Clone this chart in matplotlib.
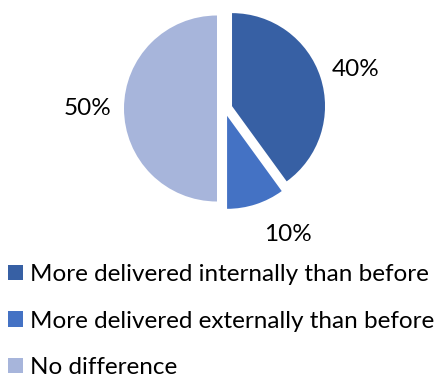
import matplotlib.pyplot as plt
from matplotlib.patches import Patch

labels = [
    "More delivered internally than before",
    "More delivered externally than before",
    "No difference",
]
shares = [40, 10, 50]
colors = ["#3760A4", "#4472C4", "#A7B5DB"]

plt.rcParams["font.family"] = ["Lato", "DejaVu Sans"]

W, H = 444, 378
R = 93
CX, CY = 224.7, H - 108.5
fig = plt.figure(figsize=(W / 100, H / 100), dpi=100)
ax = fig.add_axes([0, 0, 1, 1])

wedges, _, autotexts = ax.pie(
    shares,
    colors=colors,
    startangle=90,
    counterclock=False,
    explode=[7.7] * 3,
    radius=R,
    center=(CX, CY),
    autopct="%1.0f%%",
    pctdistance=1.4,
    textprops={"fontsize": 17.5, "color": "#000000"},
    frame=True,
)
# nudge the percentage labels to where they sit best around the pie
label_offsets = [(131, 39), (63, -126), (-137, 0)]
for t, (dx, dy) in zip(autotexts, label_offsets):
    t.set_position((CX + dx, CY + dy))

ax.set_xlim(0, W)
ax.set_ylim(0, H)
ax.set_aspect("equal")
ax.axis("off")

handles = [Patch(facecolor=c, edgecolor="none") for c in colors]
fig.legend(
    handles,
    labels,
    loc="upper left",
    bbox_to_anchor=(0.0, 1 - 256 / H),
    frameon=False,
    fontsize=17.5,
    handlelength=0.62,
    handleheight=0.62,
    handletextpad=0.3,
    labelspacing=1.05,
    borderaxespad=0,
    borderpad=0.33,
)

fig.savefig("out.png", dpi=100)
